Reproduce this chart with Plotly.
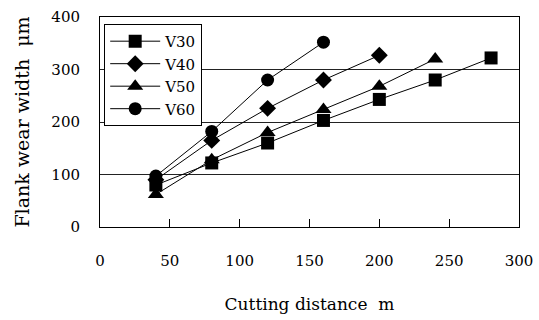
import plotly.graph_objects as go

x_v30 = [40, 80, 120, 160, 200, 240, 280]
y_v30 = [80, 122, 160, 203, 243, 280, 322]
x_v40 = [40, 80, 120, 160, 200]
y_v40 = [90, 165, 226, 280, 327]
x_v50 = [40, 80, 120, 160, 200, 240]
y_v50 = [62, 128, 180, 224, 268, 320]
x_v60 = [40, 80, 120, 160]
y_v60 = [97, 182, 280, 352]

series = [
    ("V30", x_v30, y_v30, "square"),
    ("V40", x_v40, y_v40, "diamond"),
    ("V50", x_v50, y_v50, "triangle-up"),
    ("V60", x_v60, y_v60, "circle"),
]
sizes = {"square": 13, "diamond": 13, "triangle-up": 14, "circle": 13}

FONT = "DejaVu Serif"
fig = go.Figure()
for name, xs, ys, sym in series:
    fig.add_trace(go.Scatter(
        x=xs, y=ys, name=name, mode="lines+markers",
        line=dict(color="black", width=1),
        marker=dict(symbol=sym, size=sizes[sym], color="black"),
    ))

fig.update_layout(
    width=539, height=320,
    margin=dict(l=100, r=20, t=17, b=93),
    paper_bgcolor="white", plot_bgcolor="white",
    font=dict(family=FONT, color="black", size=15),
    legend=dict(
        x=0.01, y=0.967, xanchor="left", yanchor="top",
        bordercolor="black", borderwidth=1, bgcolor="white",
        font=dict(family=FONT, size=15, color="black"), tracegroupgap=0,
        itemwidth=50,
    ),
    xaxis=dict(
        range=[0, 300], tickvals=[0, 50, 100, 150, 200, 250, 300],
        showline=True, linecolor="black", linewidth=1, mirror=True,
        ticks="inside", ticklen=8, tickcolor="black",
        showgrid=False, zeroline=False, automargin=False,
        ticklabelstandoff=20,
        tickfont=dict(family=FONT, size=15),
        title=dict(text="Cutting distance  m", font=dict(family=FONT, size=17), standoff=29),
    ),
    yaxis=dict(
        range=[0, 400], tickvals=[0, 100, 200, 300, 400],
        showline=True, linecolor="black", linewidth=1, mirror=True,
        ticks="", showgrid=True, gridcolor="#222", gridwidth=1,
        zeroline=False, automargin=False, ticklabelstandoff=16,
        tickfont=dict(family=FONT, size=15),
        title=dict(text="Flank wear width  μm", font=dict(family=FONT, size=19), standoff=16),
    ),
)

fig.write_html("out.html")
